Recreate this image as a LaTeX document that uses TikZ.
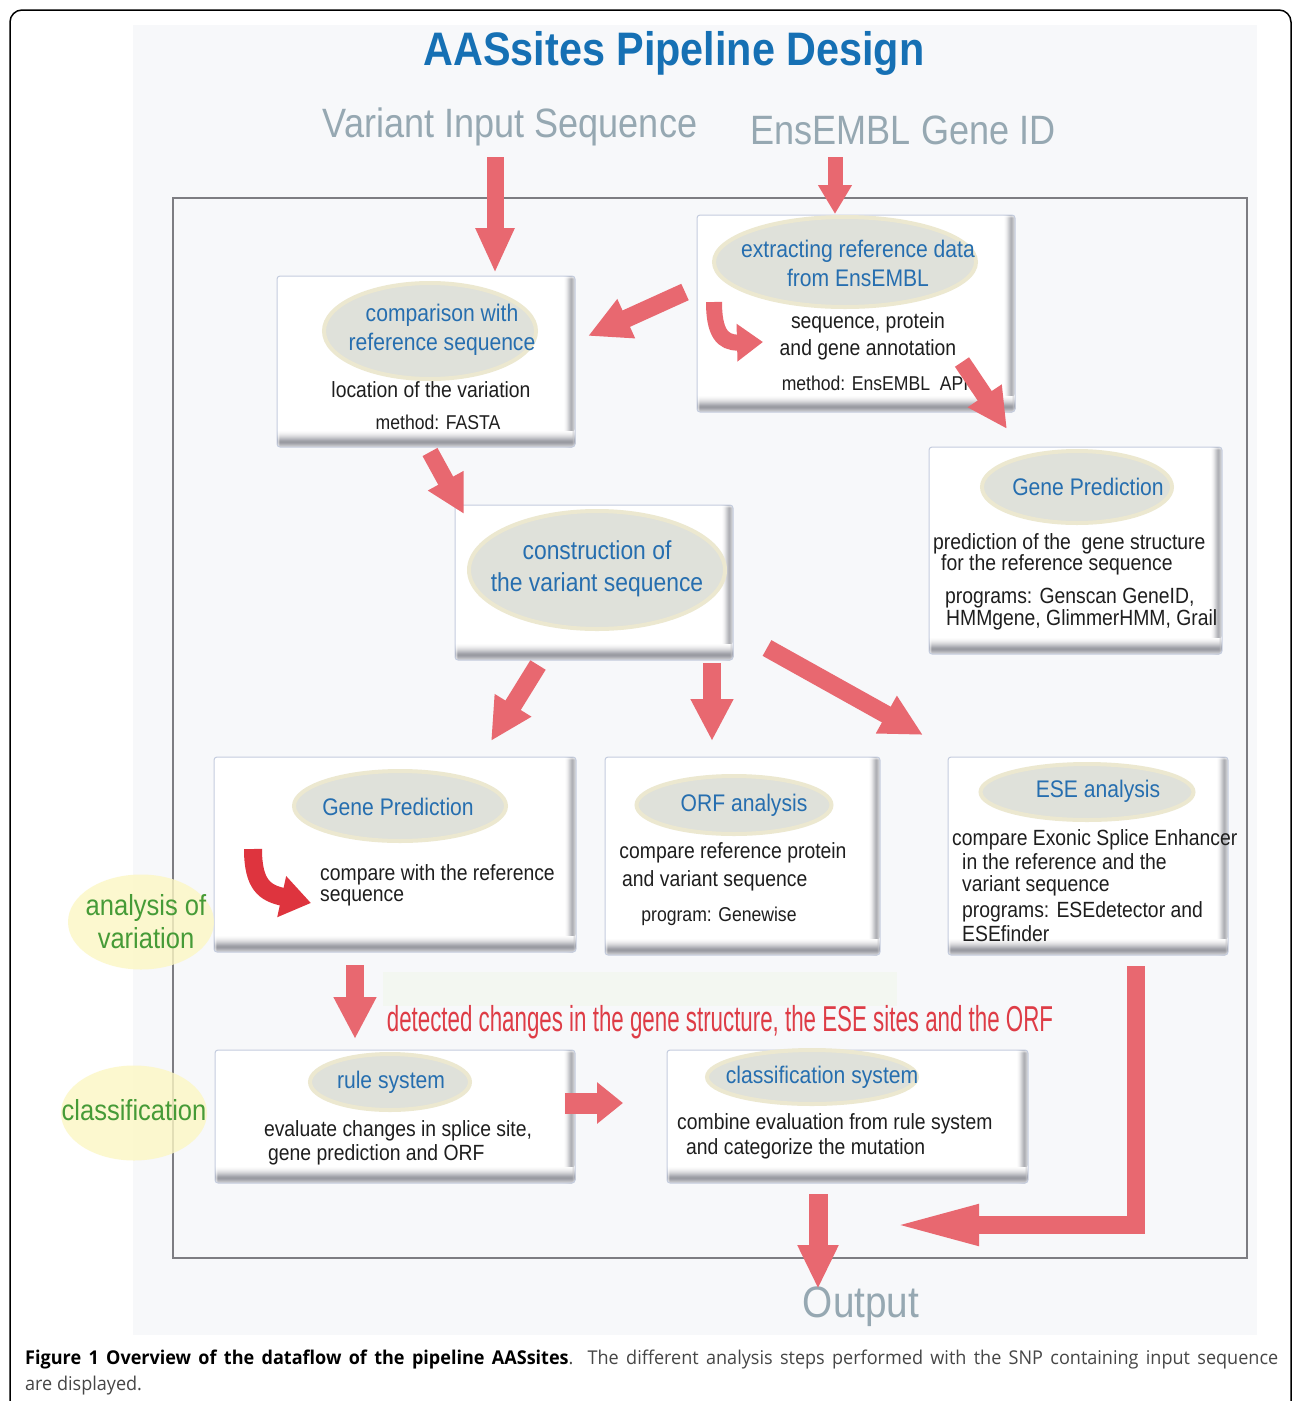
\documentclass[tikz,border=0pt]{standalone}
\usepackage{fontspec}
\setmainfont{Liberation Sans}
\newfontfamily\nf[FakeStretch=0.88]{Liberation Sans}
\newfontfamily\nfc[FakeStretch=0.62]{Liberation Sans}
\newfontfamily\capf[FakeStretch=0.95]{Open Sans}
\usetikzlibrary{shapes.geometric,arrows.meta}
\definecolor{arrowred}{RGB}{232,104,112}
\definecolor{darkred}{RGB}{222,52,62}
\definecolor{titleblue}{RGB}{22,112,180}
\definecolor{inputgray}{RGB}{150,168,178}
\definecolor{ovalfill}{RGB}{223,225,218}
\definecolor{ovalline}{RGB}{236,232,208}
\definecolor{ovalblue}{RGB}{38,110,175}
\definecolor{boxline}{RGB}{196,204,222}
\definecolor{panel}{RGB}{247,248,250}
\definecolor{framegray}{RGB}{125,125,130}
\definecolor{labelgreen}{RGB}{70,155,55}
\definecolor{labelyellow}{RGB}{252,247,196}
\definecolor{textdark}{RGB}{30,30,30}
\definecolor{detred}{RGB}{222,60,70}
\definecolor{capgray}{RGB}{70,70,70}
\definecolor{bandgreen}{RGB}{243,247,241}
\definecolor{shadegray}{RGB}{110,112,122}
\begin{document}
\begin{tikzpicture}[x=1pt,y=-1pt,
  flowbox/.style={draw=boxline, line width=1pt, fill=white, rounded corners=3pt, inner sep=0pt,
    path picture={
      \foreach \g [count=\k from 0] in {2,6,12,20,30,40,50,55,50,40,30}
        \fill[shadegray!\g!white] ([xshift={(\k-11)*1pt}]path picture bounding box.north east) rectangle ([xshift={(\k-10)*1pt}]path picture bounding box.south east);
      \foreach \g [count=\k from 0] in {2,5,9,14,20,27,35,44,53,62,68,70,64,55,45,36}
        \fill[shadegray!\g!white] ([yshift={(16-\k)*1pt}]path picture bounding box.south west) rectangle ([yshift={(15-\k)*1pt}]path picture bounding box.south east);
    }},
  ovalshape/.style={ellipse, fill=ovalfill, draw=ovalline, line width=4pt, inner sep=0pt},
  ovtext/.style={text=ovalblue, font=\nf\fontsize{24}{29}\selectfont, align=center, inner sep=0pt},
  bodytxt/.style={text=textdark, font=\nf\fontsize{22}{26}\selectfont, inner sep=0pt},
  smalltxt/.style={text=textdark, font=\nf\fontsize{20}{24}\selectfont, inner sep=0pt},
  inputtxt/.style={text=inputgray, font=\nf\fontsize{41}{48}\selectfont, inner sep=0pt},
  labeloval/.style={ellipse, fill=labelyellow, fill opacity=0.8, inner sep=0pt, minimum width=146pt, minimum height=95pt},
  labeltxt/.style={text=labelgreen, font=\nf\fontsize{29}{33}\selectfont, align=center, inner sep=0pt},
  bigarrow/.style={draw=arrowred, line width=18pt, line join=miter, -{Triangle[width=40pt,length=42pt]}},
  curarrow/.style={line width=16pt, -{Triangle[width=36pt,length=26pt]}}
]
\useasboundingbox (0,0) rectangle (1293,1401);
\fill[white] (0,0) rectangle (1293,1401);
% outer frame
\draw[line width=1.5pt, rounded corners=12pt] (10,1420) -- (10,10) -- (1291,10) -- (1291,1420);
% light panel and inner frame
\fill[panel] (133,25) rectangle (1257,1335);
\draw[framegray, line width=2.5pt] (173,198) rectangle (1247,1258);
\fill[bandgreen] (383,972) rectangle (897,1006);

% title and inputs
\node[text=titleblue, font=\nf\fontsize{47}{54}\selectfont\bfseries, inner sep=0pt] (title) at (674,53) {AASsites Pipeline Design};
\node[inputtxt] (vin) at (510,127) {Variant Input Sequence};
\node[inputtxt] (gid) at (903,130) {EnsEMBL Gene ID};

% boxes
\node[flowbox, minimum width=318pt, minimum height=197pt] (ext) at (856,313.5) {};
\node[flowbox, minimum width=298pt, minimum height=171pt] (cmp) at (426,361.5) {};
\node[flowbox, minimum width=278pt, minimum height=155pt] (con) at (594,582.5) {};
\node[flowbox, minimum width=293pt, minimum height=207pt] (gpr) at (1075.5,550.5) {};
\node[flowbox, minimum width=362pt, minimum height=195pt] (gpv) at (395,854.5) {};
\node[flowbox, minimum width=275pt, minimum height=198pt] (orf) at (742.5,856) {};
\node[flowbox, minimum width=280pt, minimum height=198pt] (ese) at (1088,856) {};
\node[flowbox, minimum width=360pt, minimum height=133pt] (rule) at (395,1116.5) {};
\node[flowbox, minimum width=361pt, minimum height=133pt] (cls) at (847.5,1116.5) {};

% ovals
\node[ovalshape, minimum width=262pt, minimum height=90pt] (extO) at (845,262) {};
\node[ovalshape, minimum width=212pt, minimum height=96pt] (cmpO) at (430,331) {};
\node[ovalshape, minimum width=256pt, minimum height=118pt] (conO) at (597,570) {};
\node[ovalshape, minimum width=190pt, minimum height=72pt] (gprO) at (1077,487) {};
\node[ovalshape, minimum width=212pt, minimum height=70pt] (gpvO) at (400,806) {};
\node[ovalshape, minimum width=195pt, minimum height=58pt] (orfO) at (734,805) {};
\node[ovalshape, minimum width=213pt, minimum height=56pt] (eseO) at (1087,792) {};
\node[ovalshape, minimum width=160pt, minimum height=56pt] (ruleO) at (390,1082) {};
\node[ovalshape, minimum width=210pt, minimum height=54pt] (clsO) at (812,1077) {};

% oval titles
\node[ovtext] (extT) at (858,263) {extracting reference data\\from EnsEMBL};
\node[ovtext] (cmpT) at (442,330) {comparison with\\reference sequence};
\node[ovtext, font=\nf\fontsize{26}{32}\selectfont] (conT) at (597,569) {construction of\\the variant sequence};
\node[ovtext] (gprT) at (1088,487) {Gene Prediction};
\node[ovtext] (gpvT) at (398,807) {Gene Prediction};
\node[ovtext] (orfT) at (744,805) {ORF analysis};
\node[ovtext] (eseT) at (1098,791) {ESE analysis};
\node[ovtext] (ruleT) at (391,1082) {rule system};
\node[ovtext] (clsT) at (822,1077) {classification system};

% body texts
\node[bodytxt, align=center] (ext1) at (868,336.5) {sequence, protein\\[1pt]and gene annotation};
\node[smalltxt] (ext2) at (875,383) {method: EnsEMBL\ \ API};
\node[bodytxt] (cmp1) at (431,390) {location of the variation};
\node[smalltxt] (cmp2) at (438,422) {method: FASTA};
\node[bodytxt, anchor=west] (gpr1) at (933,544) {prediction of the\ \ gene structure};
\node[bodytxt, anchor=west] (gpr2) at (941,565) {for the reference sequence};
\node[bodytxt, anchor=west] (gpr3) at (945,598) {programs: Genscan GeneID,};
\node[bodytxt, anchor=west] (gpr4) at (946,620) {HMMgene, GlimmerHMM, Grail};
\node[bodytxt, anchor=west] (gpv1) at (320,875) {compare with the reference};
\node[bodytxt, anchor=west] (gpv2) at (320,898) {sequence};
\node[bodytxt] (orf1) at (733,853) {compare reference protein};
\node[bodytxt, anchor=west] (orf2) at (622,881) {and variant sequence};
\node[smalltxt] (orf3) at (719,916) {program: Genewise};
\node[bodytxt, anchor=west] (ese1) at (952,840) {compare Exonic Splice Enhancer};
\node[bodytxt, anchor=west] (ese2) at (962,862) {in the reference and the};
\node[bodytxt, anchor=west] (ese3) at (962,886) {variant sequence};
\node[bodytxt, anchor=west] (ese4) at (962,912) {programs: ESEdetector and};
\node[bodytxt, anchor=west] (ese5) at (962,934) {ESEfinder};
\node[bodytxt] (rule1) at (398,1131) {evaluate changes in splice site,};
\node[bodytxt, anchor=west] (rule2) at (268,1155) {gene prediction and ORF};
\node[bodytxt, anchor=west] (cls1) at (677,1124) {combine evaluation from rule system};
\node[bodytxt, anchor=west] (cls2) at (686,1149) {and categorize the mutation};

% side labels
\node[labeloval] (lab1O) at (141,922) {};
\node[labeltxt] (lab1) at (146,922) {analysis of\\variation};
\node[labeloval] (lab2O) at (134,1113) {};
\node[labeltxt] (lab2) at (134,1110) {classification};

% detected changes text
\node[text=detred, font=\nfc\fontsize{36}{40}\selectfont, inner sep=0pt] (det) at (720,1022) {detected changes in the gene structure, the ESE sites and the ORF};

% output
\node[inputtxt, font=\nf\fontsize{44}{50}\selectfont] (out) at (861,1307) {Output};

% arrows
\coordinate (a1s) at (495,157); \coordinate (a1e) at (495,273);
\draw[bigarrow, line width=17pt, -{Triangle[width=36pt,length=45pt]}] (a1s) -- (a1e);
\coordinate (a2s) at (835,157); \coordinate (a2e) at (835,214);
\draw[bigarrow, line width=15pt, -{Triangle[width=32pt,length=29pt]}] (a2s) -- (a2e);
\coordinate (a3s) at (685,292); \coordinate (a3e) at (588,336);
\draw[bigarrow] (a3s) -- (a3e);
\coordinate (a4s) at (962,362); \coordinate (a4e) at (1007,429);
\draw[bigarrow, line width=17pt, -{Triangle[width=38pt,length=40pt]}] (a4s) -- (a4e);
\coordinate (a5s) at (430,452); \coordinate (a5e) at (464,514);
\draw[bigarrow, line width=17pt, -{Triangle[width=38pt,length=38pt]}] (a5s) -- (a5e);
\coordinate (a6s) at (538,665); \coordinate (a6e) at (491,741);
\draw[bigarrow] (a6s) -- (a6e);
\coordinate (a7s) at (712,663); \coordinate (a7e) at (712,741);
\draw[bigarrow] (a7s) -- (a7e);
\coordinate (a8s) at (767,648); \coordinate (a8e) at (923,735);
\draw[bigarrow] (a8s) -- (a8e);
\coordinate (a9s) at (355,965); \coordinate (a9e) at (355,1039);
\draw[bigarrow] (a9s) -- (a9e);
\coordinate (a10s) at (565,1103); \coordinate (a10e) at (623,1103);
\draw[bigarrow, line width=21pt, -{Triangle[width=40pt,length=26pt]}] (a10s) -- (a10e);
\coordinate (a11s) at (1136,966); \coordinate (a11c) at (1136,1225); \coordinate (a11e) at (889,1225);
\draw[bigarrow, line width=18pt, -{Triangle[width=36pt,length=90pt]}] (a11s) -- (a11c) -- (a11e);
\coordinate (a12s) at (818,1194); \coordinate (a12e) at (818,1289);
\draw[bigarrow, line width=19pt, -{Triangle[width=38pt,length=44pt]}] (a12s) -- (a12e);

% curved arrows
\coordinate (c1s) at (714,302); \coordinate (c1e) at (763,342);
\draw[curarrow, arrowred] (c1s) .. controls (714,332) and (722,343) .. (c1e);
\coordinate (c2s) at (253,849); \coordinate (c2e) at (311,903);
\draw[curarrow, darkred, line width=18pt, -{Triangle[width=40pt,length=30pt]}] (c2s) .. controls (253,885) and (265,893) .. (c2e);

% caption
\node[anchor=west, inner sep=0pt, text=capgray, font=\capf\fontsize{19}{23}\selectfont] (cap1) at (25,1359)
  {\makebox[1253pt][s]{\textbf{\color{black}Figure 1 Overview of the dataflow of the pipeline AASsites}. The different analysis steps performed with the SNP containing input sequence}};
\node[anchor=west, inner sep=0pt, text=capgray, font=\capf\fontsize{19}{23}\selectfont] (cap2) at (25,1386) {are displayed.};
\end{tikzpicture}
\end{document}
